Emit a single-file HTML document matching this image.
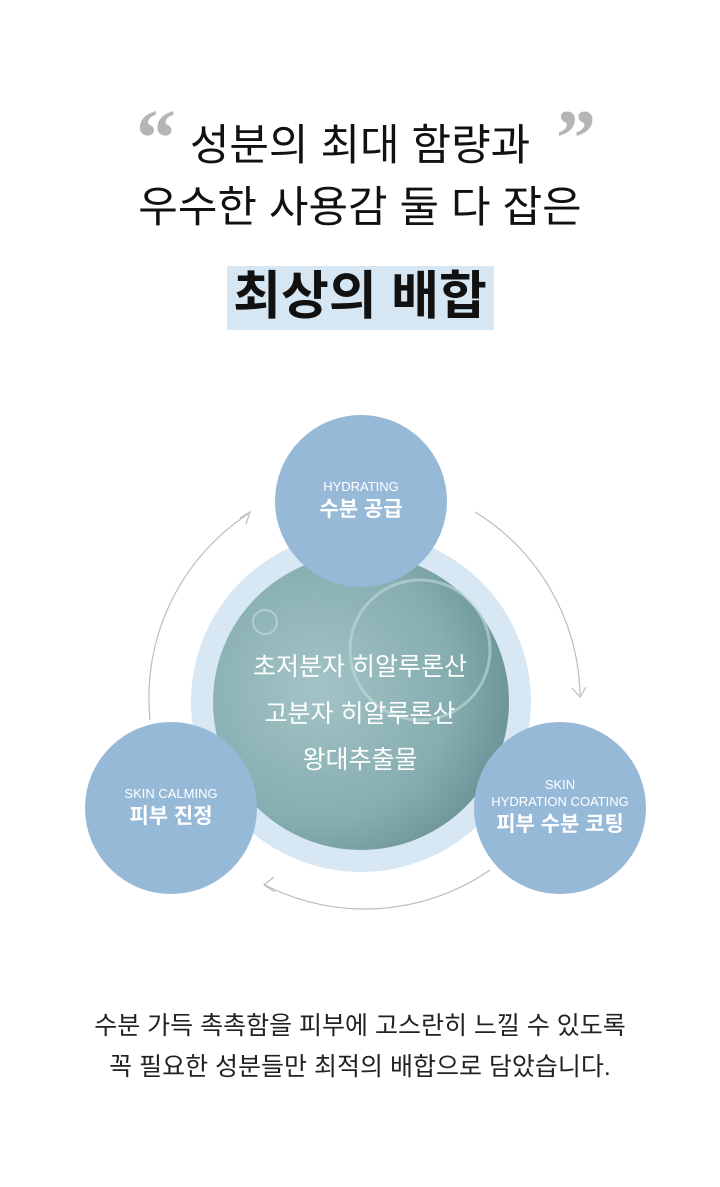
<!DOCTYPE html>
<html><head><meta charset="utf-8"><style>
body{margin:0;background:#fff;}
.w{position:relative;width:720px;height:1187px;overflow:hidden;font-family:"Liberation Sans","Noto Sans CJK KR",sans-serif;color:#111;}
.t{position:absolute;left:0;width:720px;text-align:center;white-space:nowrap;}
.c{position:absolute;border-radius:50%;background:#97b9d8;color:#fff;text-align:center;display:flex;flex-direction:column;justify-content:center;align-items:center;}
.c .e{font-size:13px;line-height:17px}
.c .k{font-size:21px;font-weight:bold;line-height:30px}
</style></head><body><div class="w">
<div class="t" style="top:118px;font-size:43px;line-height:56px">성분의 최대 함량과</div>
<div class="t" style="top:180px;font-size:43px;line-height:56px">우수한 사용감 둘 다 잡은</div>
<div style="position:absolute;left:136px;top:104px;font-size:80px;color:#b5b5b5;font-family:'Liberation Serif',serif;font-weight:bold;line-height:70px">“</div>
<div style="position:absolute;left:556px;top:104px;font-size:80px;color:#b5b5b5;font-family:'Liberation Serif',serif;font-weight:bold;line-height:70px">”</div>
<div style="position:absolute;left:227px;top:266px;width:267px;height:64px;background:#d6e6f2"></div>
<div class="t" style="top:264px;font-size:52px;font-weight:bold;line-height:66px">최상의 배합</div>
<svg style="position:absolute;left:0;top:0" width="720" height="1187">
<defs><radialGradient id="g" cx="0.35" cy="0.45" r="0.65"><stop offset="0" stop-color="#a3c4c6"/><stop offset="0.7" stop-color="#86adb0"/><stop offset="1" stop-color="#6e9699"/></radialGradient></defs>
<circle cx="361" cy="702" r="170" fill="#d7e7f3"/>
<circle cx="361" cy="702" r="148" fill="url(#g)"/>
<circle cx="420" cy="650" r="70" fill="none" stroke="#c0dada" stroke-width="3" opacity=".6"/>
<circle cx="265" cy="622" r="12" fill="none" stroke="#c8e0e0" stroke-width="2" opacity=".6"/>
<g fill="none" stroke="#bdbdbd" stroke-width="1.2">
<path d="M150 720 A220 220 0 0 1 248 514"/>
<path d="M240 518 L250 512 L246 524"/>
<path d="M475 512 A220 220 0 0 1 580 695"/>
<path d="M572 688 L580 697 L586 687"/>
<path d="M490 870 A220 220 0 0 1 265 885"/>
<path d="M274 877 L264 885 L275 892"/>
</g>
</svg>
<div class="t" style="top:652px;font-size:25px;line-height:30px;color:#fff">초저분자 히알루론산</div>
<div class="t" style="top:699px;font-size:25px;line-height:30px;color:#fff">고분자 히알루론산</div>
<div class="t" style="top:745px;font-size:25px;line-height:30px;color:#fff">왕대추출물</div>
<div class="c" style="left:275px;top:415px;width:172px;height:172px"><div class="e">HYDRATING</div><div class="k">수분 공급</div></div>
<div class="c" style="left:85px;top:722px;width:172px;height:172px"><div class="e">SKIN CALMING</div><div class="k">피부 진정</div></div>
<div class="c" style="left:474px;top:722px;width:172px;height:172px"><div class="e">SKIN<br>HYDRATION COATING</div><div class="k">피부 수분 코팅</div></div>
<div class="t" style="top:1008px;font-size:25px;line-height:36px;color:#222">수분 가득 촉촉함을 피부에 고스란히 느낄 수 있도록</div>
<div class="t" style="top:1049px;font-size:25px;line-height:36px;color:#222">꼭 필요한 성분들만 최적의 배합으로 담았습니다.</div>
</div></body></html>
